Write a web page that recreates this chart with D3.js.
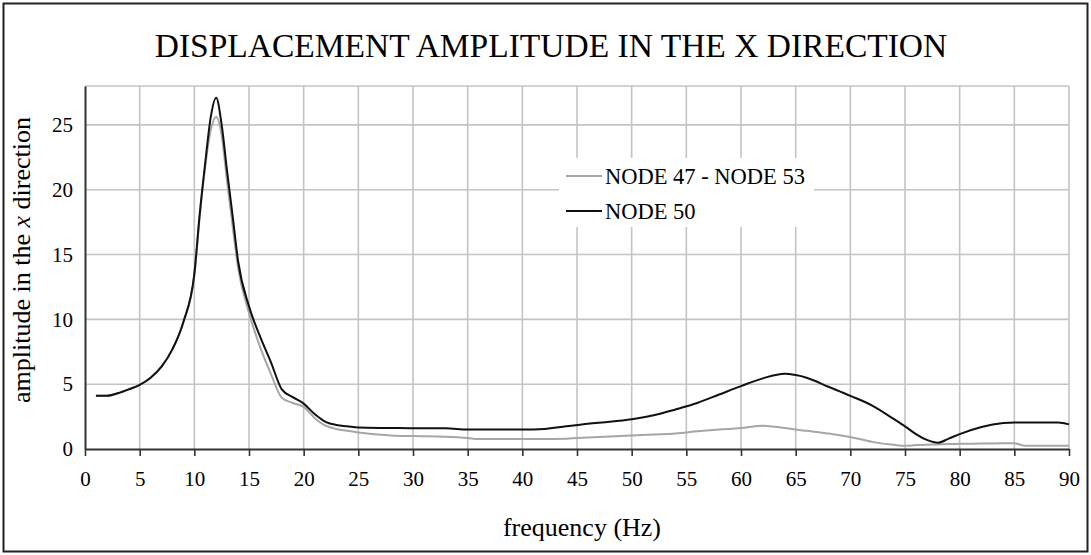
<!DOCTYPE html>
<html>
<head>
<meta charset="utf-8">
<script src="https://cdn.jsdelivr.net/npm/d3@7"></script>
<style>
  body { margin: 0; background: #fff; }
  text { font-family: "Liberation Serif", "Times New Roman", serif; fill: #000; }
</style>
</head>
<body>
<div id="chart"></div>
<script>
// frequencies (Hz)
const freqs = [1,2,3,4,5,6,7,8,9,10,10.5,11,11.5,12,12.5,13,13.5,14,15,16,17,18,19,20,21,22,23,24,25,28,30,33,35,36,40,42,44,46,48,50,52,54,56,58,60,62,64,65,66,68,70,72,74,75,76,77,78,79,80,82,84,85,86,89,90];

// NODE 50 (black)
const node50 = [4.1,4.1,4.3,4.6,4.95,5.5,6.35,7.7,9.8,13.5,18.2,22.1,25.6,27.1,25.0,21.4,18.0,14.5,11.0,8.7,6.7,4.6,4.0,3.5,2.7,2.1,1.85,1.75,1.65,1.62,1.6,1.6,1.5,1.5,1.5,1.55,1.75,1.95,2.1,2.3,2.6,3.05,3.55,4.2,4.85,5.45,5.8,5.7,5.5,4.8,4.1,3.35,2.3,1.75,1.15,0.7,0.48,0.8,1.15,1.7,2.0,2.05,2.05,2.05,1.9];

// NODE 47 - NODE 53 (grey)
const node47_53 = [4.1,4.1,4.3,4.6,4.95,5.5,6.35,7.7,9.8,13.4,18.0,21.8,24.6,25.6,24.2,20.6,17.2,14.0,10.5,7.9,5.8,3.95,3.55,3.25,2.4,1.8,1.55,1.4,1.28,1.05,1.0,0.95,0.85,0.77,0.77,0.77,0.8,0.88,0.97,1.05,1.12,1.2,1.36,1.5,1.62,1.8,1.62,1.5,1.4,1.2,0.92,0.55,0.32,0.25,0.3,0.33,0.35,0.38,0.4,0.42,0.45,0.45,0.25,0.25,0.25];

const xTicks = d3.range(0, 91, 5);
const yTicks = [0, 5, 10, 15, 20, 25];

const width = 1091, height = 555;
const margin = { top: 86, right: 22, bottom: 106, left: 85 };

const svg = d3.select("#chart").append("svg")
  .attr("width", width)
  .attr("height", height);

// outer frame
svg.append("rect")
  .attr("x", 3.5).attr("y", 3.5)
  .attr("width", width - 7).attr("height", height - 7)
  .attr("fill", "none").attr("stroke", "#222").attr("stroke-width", 2);

const x = d3.scaleLinear().domain([0, 90]).range([margin.left, width - margin.right]);
const y = d3.scaleLinear().domain([0, 28]).range([height - margin.bottom, margin.top]);

// grid
const grid = svg.append("g").attr("stroke", "#c4c4c4").attr("stroke-width", 1.6);
grid.selectAll(".gx").data(xTicks.slice(1)).enter().append("line")
  .attr("x1", d => x(d)).attr("x2", d => x(d))
  .attr("y1", y(0)).attr("y2", y(28));
grid.selectAll(".gy").data(yTicks.slice(1).concat([28])).enter().append("line")
  .attr("x1", x(0)).attr("x2", x(90))
  .attr("y1", d => y(d)).attr("y2", d => y(d));

// legend box hides the grid behind it
svg.append("rect")
  .attr("x", 559).attr("y", 158).attr("width", 255).attr("height", 69)
  .attr("fill", "#fff");

// lines
const line = vals => d3.line()
  .x((d, i) => x(freqs[i]))
  .y(d => y(d))
  .curve(d3.curveMonotoneX)(vals);

svg.append("path").attr("d", line(node47_53))
  .attr("fill", "none").attr("stroke", "#a6a6a6").attr("stroke-width", 2);
svg.append("path").attr("d", line(node50))
  .attr("fill", "none").attr("stroke", "#111").attr("stroke-width", 2);

// axes
const xAxis = svg.append("g")
  .attr("transform", `translate(0,${y(0)})`)
  .call(d3.axisBottom(x).tickValues(xTicks).tickSize(7).tickSizeOuter(0).tickPadding(15));
const yAxis = svg.append("g")
  .attr("transform", `translate(${x(0)},0)`)
  .call(d3.axisLeft(y).tickValues(yTicks).tickSize(0).tickPadding(12));

[xAxis, yAxis].forEach(a => {
  a.select(".domain").attr("stroke", "#333").attr("stroke-width", 2);
  a.selectAll(".tick line").attr("stroke", "#333").attr("stroke-width", 1.6);
  a.selectAll("text").style("font-family", "Liberation Serif, serif").style("font-size", "21px").attr("fill", "#000");
});

// title and axis labels
svg.append("text")
  .attr("x", 551).attr("y", 57)
  .attr("text-anchor", "middle")
  .style("font-size", "33.5px")
  .text("DISPLACEMENT AMPLITUDE IN THE X DIRECTION");

svg.append("text")
  .attr("x", 582).attr("y", 536)
  .attr("text-anchor", "middle")
  .style("font-size", "26px")
  .text("frequency (Hz)");

const yl = svg.append("text")
  .attr("transform", "translate(30,260) rotate(-90)")
  .attr("text-anchor", "middle")
  .style("font-size", "26px");
yl.append("tspan").text("amplitude in the ");
yl.append("tspan").style("font-style", "italic").text("x");
yl.append("tspan").text(" direction");

// legend
const legend = [
  { name: "NODE 47 - NODE 53", color: "#a6a6a6", cy: 176 },
  { name: "NODE 50", color: "#111", cy: 211 }
];
const lg = svg.selectAll(".legend").data(legend).enter().append("g");
lg.append("line")
  .attr("x1", 566).attr("x2", 602)
  .attr("y1", d => d.cy).attr("y2", d => d.cy)
  .attr("stroke", d => d.color).attr("stroke-width", 2);
lg.append("text")
  .attr("x", 605).attr("y", d => d.cy + 8)
  .style("font-size", "22.5px")
  .text(d => d.name);
</script>
</body>
</html>
